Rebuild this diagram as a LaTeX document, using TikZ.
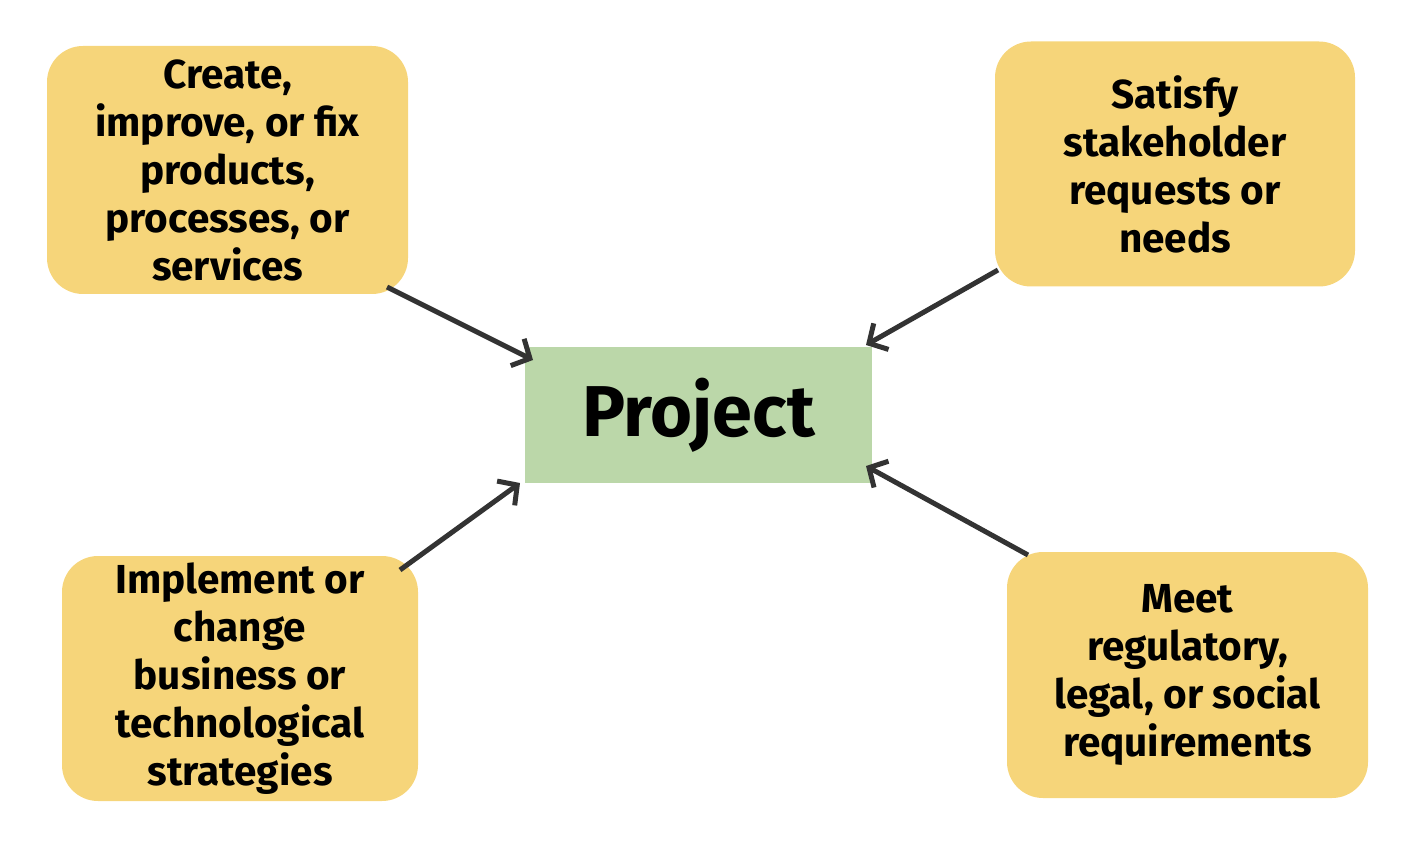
\documentclass[tikz,border=0pt]{standalone}
\usepackage{fontspec}
\setmainfont{Fira Sans}
\usetikzlibrary{arrows.meta}
\definecolor{boxyellow}{HTML}{F6D57A}
\definecolor{boxgreen}{HTML}{BBD7A9}
\definecolor{arrowgray}{HTML}{333333}
\tikzset{
  goalbox/.style={fill=boxyellow, rounded corners=36pt, align=center, inner sep=0pt,
    font=\fontsize{40.5}{48}\selectfont\bfseries},
  projbox/.style={fill=boxgreen, inner sep=0pt, font=\fontsize{72}{76}\selectfont\bfseries},
  conn/.style={draw=arrowgray, line width=5pt, -{Straight Barb[length=14pt,width=30pt,line width=5pt]}}
}
\begin{document}
\begin{tikzpicture}[x=1pt,y=-1pt]
\useasboundingbox (0,0) rectangle (1420,858);
\node[projbox, minimum width=347pt, minimum height=136pt] (p) at (698.5,415) {Project};
\node[goalbox, minimum width=361pt, minimum height=248pt] (tl) at (227.5,170) {Create,\\improve, or fix\\products,\\processes, or\\services};
\node[goalbox, minimum width=360pt, minimum height=245pt] (tr) at (1175,164) {Satisfy\\stakeholder\\requests or\\needs};
\node[goalbox, minimum width=356pt, minimum height=245pt] (bl) at (240,678.5) {Implement or\\change\\business or\\technological\\strategies};
\node[goalbox, minimum width=361pt, minimum height=246pt] (br) at (1187.5,675) {Meet\\regulatory,\\legal, or social\\requirements};
\coordinate (tls) at (387,287);
\coordinate (tle) at (533,360);
\coordinate (trs) at (998,270);
\coordinate (tre) at (866,345);
\coordinate (bls) at (400,570);
\coordinate (ble) at (520,483);
\coordinate (brs) at (1028,555);
\coordinate (bre) at (866,466);
\draw[conn] (tls) -- (tle);
\draw[conn] (trs) -- (tre);
\draw[conn] (bls) -- (ble);
\draw[conn] (brs) -- (bre);
\end{tikzpicture}
\end{document}
